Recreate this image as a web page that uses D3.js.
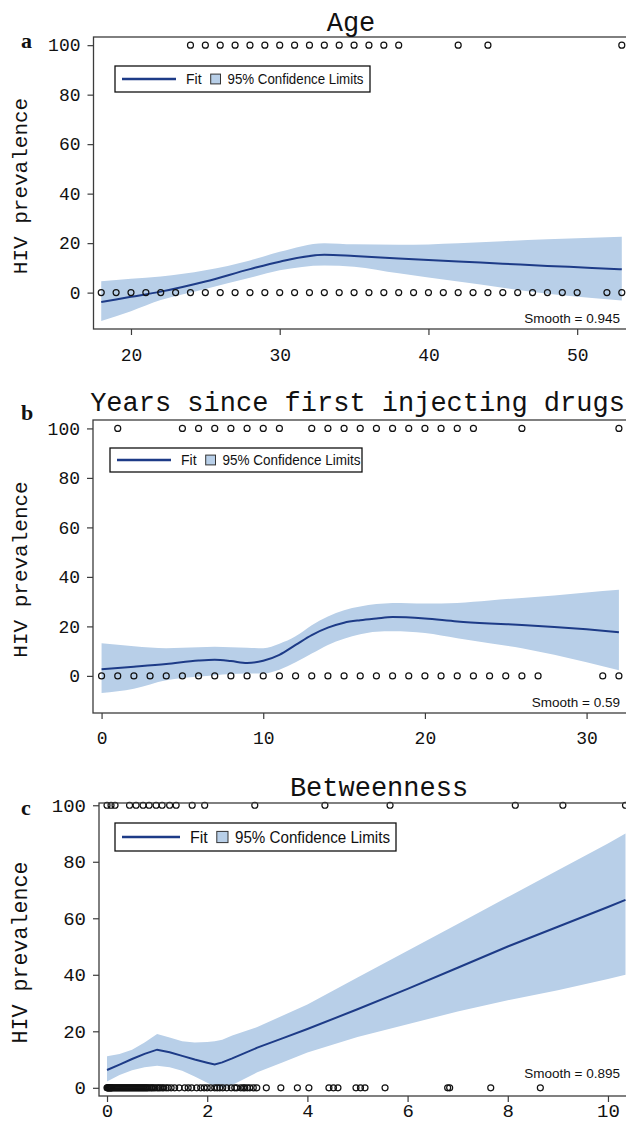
<!DOCTYPE html>
<html><head><meta charset="utf-8">
<script src="https://cdn.jsdelivr.net/npm/d3@7"></script>
<style>body{margin:0;background:#fff;overflow:hidden}</style>
</head><body>
<svg id="chart" width="626" height="1126"></svg>
<script>
// ---------- Panel a: Age ----------
const ageTitle = "Age";
const ageXTicks = [20, 30, 40, 50];
const ageZeroX = [18,19,20,21,22,23,24,25,26,27,28,29,30,31,32,33,34,35,36,37,38,39,40,41,42,43,44,45,46,47,48,49,50,52,53];
const ageHundredX = [24,25,26,27,28,29,30,31,32,33,34,35,36,37,38,42,44,53];
const ageFitX  = [18, 20, 22, 25, 28, 30, 33, 35, 38, 42, 45, 48, 51, 53];
const ageFit   = [-3.8, -1.7, 0.4, 4.5, 9.5, 12.5, 15.3, 14.8, 13.8, 12.6, 11.7, 10.8, 10.0, 9.4];
const ageLower = [-11.5, -7.5, -3.0, 1.5, 6.0, 9.0, 11.0, 10.5, 7.8, 4.5, 2.0, -0.5, -2.2, -3.2];
const ageUpper = [4.6, 5.6, 6.5, 9.0, 13.0, 16.5, 20.0, 19.5, 19.3, 20.0, 20.8, 21.6, 22.2, 22.6];
const ageSmooth = "Smooth = 0.945";

// ---------- Panel b: Years since first injecting drugs ----------
const yrsTitle = "Years since first injecting drugs";
const yrsXTicks = [0, 10, 20, 30];
const yrsZeroX = [0,1,2,3,4,5,6,7,8,9,10,11,12,13,14,15,16,17,18,19,20,21,22,23,24,25,26,27,31,32];
const yrsHundredX = [1,5,6,7,8,9,10,11,13,14,15,16,17,18,19,20,21,22,23,26,32];
const yrsFitX  = [0, 2, 4, 6, 7, 8, 9, 10, 11, 12, 13, 14, 15, 16, 17, 18, 20, 22, 24, 26, 28, 30, 32];
const yrsFit   = [2.7, 3.7, 4.8, 6.2, 6.5, 6.0, 5.2, 6.1, 8.5, 12.5, 16.5, 19.5, 21.5, 22.5, 23.2, 23.8, 23.2, 22.0, 21.2, 20.6, 19.8, 18.8, 17.6];
const yrsLower = [-6.9, -5.2, -1.8, -0.3, 0.3, 0.8, 1.0, 1.0, 2.5, 5.5, 9.0, 12.5, 15.0, 16.8, 17.8, 18.0, 17.3, 15.2, 13.2, 11.2, 8.5, 5.5, 2.3];
const yrsUpper = [13.2, 12.0, 11.2, 11.6, 11.8, 11.6, 11.4, 11.2, 13.0, 16.0, 20.5, 24.0, 26.5, 28.0, 29.0, 29.5, 29.2, 29.5, 30.5, 31.5, 32.5, 33.7, 34.8];
const yrsSmooth = "Smooth = 0.59";

// ---------- Panel c: Betweenness ----------
const betTitle = "Betweenness";
const betXTicks = [0, 2, 4, 6, 8, 10];
const betZeroX = [0,0.01,0.02,0.03,0.04,0.05,0.06,0.07,0.08,0.09,0.1,0.12,0.14,0.16,0.18,0.2,0.22,0.24,0.26,0.28,0.3,0.32,0.34,0.36,0.38,0.4,0.42,0.44,0.46,0.48,0.5,0.52,0.54,0.56,0.58,0.6,0.62,0.64,0.66,0.68,0.7,0.72,0.74,0.76,0.78,0.8,0.82,0.85,0.88,0.9,0.93,0.96,1.0,1.03,1.06,1.1,1.13,
  1.18,1.22,1.28,1.35,1.44,1.55,1.62,1.69,1.79,1.87,1.94,2.0,2.07,2.15,2.2,2.25,2.31,2.39,2.48,2.55,2.59,2.67,2.72,2.75,2.8,2.85,2.92,2.99,
  3.18,3.47,3.8,4.03,4.43,4.52,4.61,4.97,5.06,5.15,5.55,6.8,6.84,7.66,8.65];
const betHundredX = [0.0,0.08,0.16,0.45,0.58,0.72,0.84,0.98,1.1,1.25,1.38,1.7,1.95,2.95,4.35,5.65,8.15,9.1,10.35];
const betFitX  = [0, 0.25, 0.5, 0.75, 1.0, 1.25, 1.5, 1.75, 2.0, 2.15, 2.3, 2.5, 3, 3.5, 4, 5, 6, 7, 8, 9, 10, 10.35];
const betFit   = [6.3, 8.2, 10.2, 12.0, 13.5, 12.6, 11.3, 10.0, 8.9, 8.3, 9.0, 10.4, 14.2, 17.5, 20.8, 27.8, 35.0, 42.5, 50.0, 57.0, 64.0, 66.5];
const betLower = [2.2, 4.5, 6.2, 7.3, 7.8, 7.3, 6.0, 4.0, 1.8, 0.5, 0.0, 1.0, 5.5, 9.0, 12.5, 18.0, 22.5, 27.0, 31.0, 34.5, 38.5, 40.0];
const betUpper = [11.2, 12.0, 13.5, 16.0, 19.0, 17.8, 16.5, 16.0, 16.2, 16.5, 17.0, 18.5, 21.5, 25.5, 29.5, 39.0, 48.5, 58.0, 67.5, 77.0, 86.5, 90.0];
const betSmooth = "Smooth = 0.895";

const yTicks = [0, 20, 40, 60, 80, 100];
const yLabel = "HIV prevalence";
const legendFit = "Fit";
const legendBand = "95% Confidence Limits";

const BAND = "#b8cfe8", FITC = "#1d3b87", AX = "#3c3c3c";
const MONO = "'Liberation Mono', 'DejaVu Sans Mono', monospace";
const NARROW = "'Liberation Sans Narrow', 'Arial Narrow', 'Liberation Sans', sans-serif";

const svg = d3.select("#chart");

const panels = [
  { letter:"a", title:ageTitle, titleX:351, titleY:31, letterY:48,
    xDom:[17.48,53.35], left:93.5, right:627, top:37, bottom:329, yDom:[-14.7,103.3],
    xTicks:ageXTicks, zero:ageZeroX, hundred:ageHundredX, curve:d3.curveMonotoneX,
    fitX:ageFitX, fit:ageFit, lo:ageLower, hi:ageUpper, smooth:ageSmooth, smoothY:323,
    leg:{x:115,y:66,w:255,h:26,fs:14,lineW:54,textW:136}, tickFs:18, xLabY:361, yLabFs:21 },
  { letter:"b", title:yrsTitle, titleX:357.5, titleY:411, letterY:420,
    xDom:[-0.53,32.5], left:93, right:627, top:420, bottom:713, yDom:[-15,103.4],
    xTicks:yrsXTicks, zero:yrsZeroX, hundred:yrsHundredX, curve:d3.curveMonotoneX,
    fitX:yrsFitX, fit:yrsFit, lo:yrsLower, hi:yrsUpper, smooth:yrsSmooth, smoothY:707,
    leg:{x:110,y:448,w:252,h:24,fs:14,lineW:54,textW:138}, tickFs:18, xLabY:744, yLabFs:21 },
  { letter:"c", title:betTitle, titleX:379, titleY:796, letterY:815,
    xDom:[-0.16,10.38], left:99, right:627, top:803, bottom:1096, yDom:[-2.9,100.8],
    xTicks:betXTicks, zero:betZeroX, hundred:betHundredX, curve:d3.curveLinear,
    fitX:betFitX, fit:betFit, lo:betLower, hi:betUpper, smooth:betSmooth, smoothY:1078,
    leg:{x:115,y:823,w:281,h:28,fs:16,lineW:58,textW:155}, tickFs:19, xLabY:1117, yLabFs:21.7 }
];

panels.forEach((p, i) => {
  const g = svg.append("g");
  const x = d3.scaleLinear().domain(p.xDom).range([p.left, p.right]);
  const y = d3.scaleLinear().domain(p.yDom).range([p.bottom, p.top]);

  const clipId = "clip" + i;
  g.append("clipPath").attr("id", clipId).append("rect")
    .attr("x", p.left).attr("y", p.top).attr("width", p.right - p.left).attr("height", p.bottom - p.top);

  const plot = g.append("g").attr("clip-path", `url(#${clipId})`);
  const rows = p.fitX.map((v, k) => ({x:v, f:p.fit[k], lo:p.lo[k], hi:p.hi[k]}));

  plot.append("path").datum(rows)
    .attr("fill", BAND)
    .attr("d", d3.area().x(d => x(d.x)).y0(d => y(d.lo)).y1(d => y(d.hi)).curve(p.curve));

  plot.append("path").datum(rows)
    .attr("fill", "none").attr("stroke", FITC).attr("stroke-width", 2)
    .attr("d", d3.line().x(d => x(d.x)).y(d => y(d.f)).curve(p.curve));

  const pts = p.zero.map(v => ({x:v, y:0})).concat(p.hundred.map(v => ({x:v, y:100})));
  g.append("g").selectAll("circle").data(pts).join("circle")
    .attr("cx", d => x(d.x)).attr("cy", d => y(d.y)).attr("r", 3)
    .attr("fill", "none").attr("stroke", "#111").attr("stroke-width", 1.2);

  // frame
  g.append("rect").attr("x", p.left).attr("y", p.top)
    .attr("width", p.right - p.left).attr("height", p.bottom - p.top)
    .attr("fill", "none").attr("stroke", AX).attr("stroke-width", 1.3);

  // y axis
  const ya = d3.axisLeft(y).tickValues(yTicks).tickSize(6).tickPadding(7);
  const yg = g.append("g").attr("transform", `translate(${p.left},0)`).call(ya);
  yg.select(".domain").remove();
  yg.selectAll("line").attr("stroke", AX).attr("stroke-width", 1.2);
  yg.selectAll("text").attr("font-family", MONO).attr("font-size", p.tickFs).attr("fill", "#111");

  // x axis
  const xa = d3.axisBottom(x).tickValues(p.xTicks).tickSize(6).tickFormat(d3.format("d"));
  const xg = g.append("g").attr("transform", `translate(0,${p.bottom})`).call(xa);
  xg.select(".domain").remove();
  xg.selectAll("line").attr("stroke", AX).attr("stroke-width", 1.2);
  xg.selectAll("text").attr("font-family", MONO).attr("font-size", p.tickFs).attr("fill", "#111")
    .attr("dy", null).attr("y", p.xLabY - p.bottom);

  // y label
  g.append("text")
    .attr("transform", `translate(${27},${(p.top + p.bottom) / 2 + 3}) rotate(-90)`)
    .attr("text-anchor", "middle").attr("font-family", MONO).attr("font-size", p.yLabFs)
    .attr("fill", "#111").text(yLabel);

  // title
  g.append("text").attr("x", p.titleX).attr("y", p.titleY).attr("text-anchor", "middle")
    .attr("font-family", MONO).attr("font-size", 27).attr("fill", "#111").text(p.title);

  // panel letter
  g.append("text").attr("x", 21).attr("y", p.letterY)
    .attr("font-family", "'Liberation Serif', 'DejaVu Serif', serif").attr("font-weight", "bold")
    .attr("font-size", 22).attr("fill", "#111").text(p.letter);

  // smooth
  g.append("text").attr("x", 620).attr("y", p.smoothY).attr("text-anchor", "end")
    .attr("font-family", NARROW).attr("font-size", 13.5).attr("fill", "#111").text(p.smooth);

  // legend
  const L = p.leg;
  const lg = g.append("g");
  lg.append("rect").attr("x", L.x).attr("y", L.y).attr("width", L.w).attr("height", L.h)
    .attr("fill", "#fff").attr("stroke", "#111").attr("stroke-width", 1.3);
  const cy = L.y + L.h / 2;
  lg.append("line").attr("x1", L.x + 7).attr("x2", L.x + 7 + L.lineW).attr("y1", cy).attr("y2", cy)
    .attr("stroke", FITC).attr("stroke-width", 2.5);
  lg.append("text").attr("x", L.x + 7 + L.lineW + 10).attr("y", cy + L.fs * 0.36)
    .attr("font-family", NARROW).attr("font-size", L.fs).attr("fill", "#111").text(legendFit);
  const sw = L.fs * 0.7;
  const sx = L.x + 7 + L.lineW + 10 + L.fs * 1.05 + 10;
  lg.append("rect").attr("x", sx).attr("y", cy - sw / 2).attr("width", sw).attr("height", sw)
    .attr("fill", BAND).attr("stroke", "#333").attr("stroke-width", 1);
  lg.append("text").attr("x", sx + sw + 7).attr("y", cy + L.fs * 0.36)
    .attr("font-family", NARROW).attr("font-size", L.fs).attr("fill", "#111")
    .attr("textLength", L.textW).attr("lengthAdjust", "spacingAndGlyphs").text(legendBand);
});
</script>
</body></html>
